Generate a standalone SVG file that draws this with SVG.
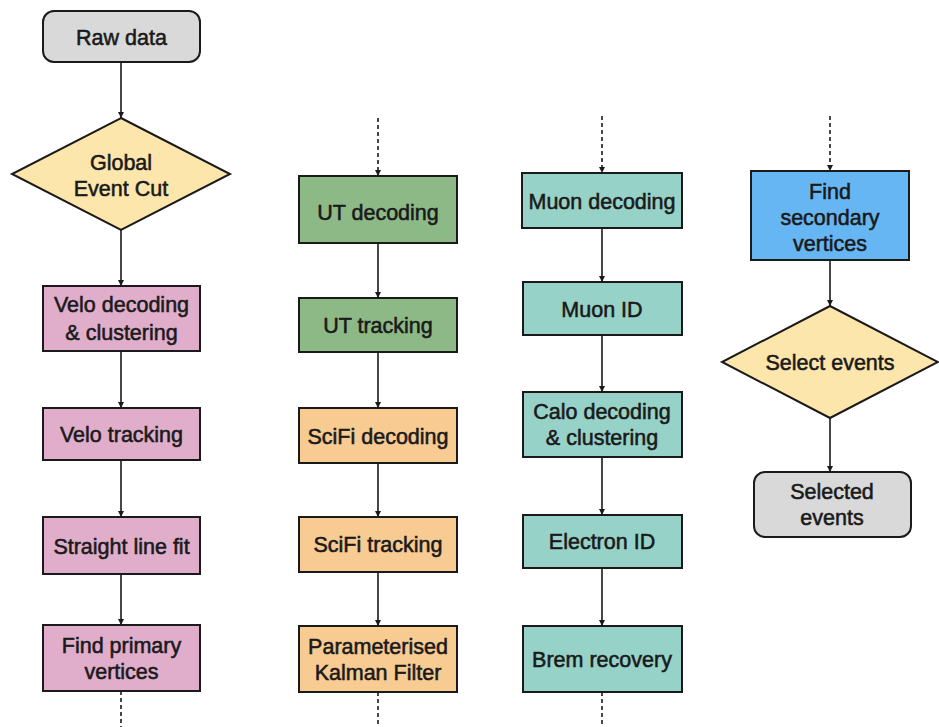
<svg xmlns="http://www.w3.org/2000/svg" width="939" height="727" viewBox="0 0 939 727">
<style>
.n{stroke:#1a1a1a;stroke-width:2}
.g{fill:#d9d9d9}.y{fill:#fde6ac}.p{fill:#e0aecb}.gr{fill:#8db987}.o{fill:#f7cb92}.t{fill:#96d2c7}.b{fill:#67b6f4}
text{font-family:"Liberation Sans",Arial,sans-serif;font-size:21.5px;fill:#1a1a1a;stroke:#1a1a1a;stroke-width:0.55;text-anchor:middle}
.c{stroke:#1a1a1a;stroke-width:1.6;fill:none}
.d{stroke-dasharray:4 3}
</style>
<defs>
<marker id="ah" viewBox="0 0 10 10" refX="10" refY="5" markerWidth="6" markerHeight="6" markerUnits="userSpaceOnUse" orient="auto"><path d="M0,0 L10,5 L0,10 z" fill="#1a1a1a"/></marker>
</defs>
<rect width="939" height="727" fill="#fff"/>
<g id="connectors">
<line class="c" x1="121" y1="62" x2="121" y2="118" marker-end="url(#ah)"/>
<line class="c" x1="121" y1="230" x2="121" y2="286" marker-end="url(#ah)"/>
<line class="c" x1="121" y1="351" x2="121" y2="408" marker-end="url(#ah)"/>
<line class="c" x1="121" y1="460" x2="121" y2="517" marker-end="url(#ah)"/>
<line class="c" x1="121" y1="574" x2="121" y2="625" marker-end="url(#ah)"/>
<line class="c d" x1="121" y1="691" x2="121" y2="727"/>
<line class="c d" x1="378" y1="118" x2="378" y2="176" marker-end="url(#ah)"/>
<line class="c" x1="378" y1="243" x2="378" y2="298" marker-end="url(#ah)"/>
<line class="c" x1="378" y1="352" x2="378" y2="408" marker-end="url(#ah)"/>
<line class="c" x1="378" y1="463" x2="378" y2="517" marker-end="url(#ah)"/>
<line class="c" x1="378" y1="572" x2="378" y2="626" marker-end="url(#ah)"/>
<line class="c d" x1="378" y1="692" x2="378" y2="727"/>
<line class="c d" x1="602" y1="116" x2="602" y2="173" marker-end="url(#ah)"/>
<line class="c" x1="602" y1="228" x2="602" y2="282" marker-end="url(#ah)"/>
<line class="c" x1="602" y1="335" x2="602" y2="392" marker-end="url(#ah)"/>
<line class="c" x1="602" y1="457" x2="602" y2="515" marker-end="url(#ah)"/>
<line class="c" x1="602" y1="568" x2="602" y2="626" marker-end="url(#ah)"/>
<line class="c d" x1="602" y1="692" x2="602" y2="727"/>
<line class="c d" x1="830" y1="116" x2="830" y2="171" marker-end="url(#ah)"/>
<line class="c" x1="830" y1="260" x2="830" y2="306" marker-end="url(#ah)"/>
<line class="c" x1="830" y1="418" x2="830" y2="472" marker-end="url(#ah)"/>
</g>
<g id="raw-data"><rect class="n g" x="43" y="11" width="157" height="51" rx="11"/><text x="121.5" y="45">Raw data</text></g>
<g id="global-event-cut"><polygon class="n y" points="121,118 230,174 121,230 12,174"/><text x="121" y="170">Global</text><text x="121" y="196">Event Cut</text></g>
<g id="velo-decoding"><rect class="n p" x="43" y="286" width="157" height="65"/><text x="121.5" y="312">Velo decoding</text><text x="121.5" y="340">&amp; clustering</text></g>
<g id="velo-tracking"><rect class="n p" x="43" y="408" width="157" height="52"/><text x="121.5" y="442">Velo tracking</text></g>
<g id="straight-line-fit"><rect class="n p" x="43" y="517" width="157" height="57"/><text x="121.5" y="554">Straight line fit</text></g>
<g id="find-primary-vertices"><rect class="n p" x="43" y="625" width="157" height="66"/><text x="121.5" y="653">Find primary</text><text x="121.5" y="679">vertices</text></g>
<g id="ut-decoding"><rect class="n gr" x="299" y="176" width="158" height="67"/><text x="378" y="220">UT decoding</text></g>
<g id="ut-tracking"><rect class="n gr" x="299" y="298" width="158" height="54"/><text x="378" y="333">UT tracking</text></g>
<g id="scifi-decoding"><rect class="n o" x="299" y="408" width="158" height="55"/><text x="378" y="444">SciFi decoding</text></g>
<g id="scifi-tracking"><rect class="n o" x="299" y="517" width="158" height="55"/><text x="378" y="552">SciFi tracking</text></g>
<g id="kalman-filter"><rect class="n o" x="299" y="626" width="158" height="66"/><text x="378" y="654">Parameterised</text><text x="378" y="680">Kalman Filter</text></g>
<g id="muon-decoding"><rect class="n t" x="522" y="173" width="160" height="55"/><text x="602" y="209">Muon decoding</text></g>
<g id="muon-id"><rect class="n t" x="523" y="282" width="159" height="53"/><text x="602" y="317">Muon ID</text></g>
<g id="calo-decoding"><rect class="n t" x="523" y="392" width="159" height="65"/><text x="602" y="419">Calo decoding</text><text x="602" y="445">&amp; clustering</text></g>
<g id="electron-id"><rect class="n t" x="523" y="515" width="159" height="53"/><text x="602" y="549">Electron ID</text></g>
<g id="brem-recovery"><rect class="n t" x="523" y="626" width="159" height="66"/><text x="602" y="667">Brem recovery</text></g>
<g id="find-secondary-vertices"><rect class="n b" x="751" y="171" width="158" height="89"/><text x="830" y="199">Find</text><text x="830" y="225">secondary</text><text x="830" y="251">vertices</text></g>
<g id="select-events"><polygon class="n y" points="830,306 938,362 830,418 722,362"/><text x="830" y="370">Select events</text></g>
<g id="selected-events"><rect class="n g" x="754" y="472" width="157" height="65" rx="11"/><text x="832" y="499">Selected</text><text x="832" y="525">events</text></g>
</svg>
